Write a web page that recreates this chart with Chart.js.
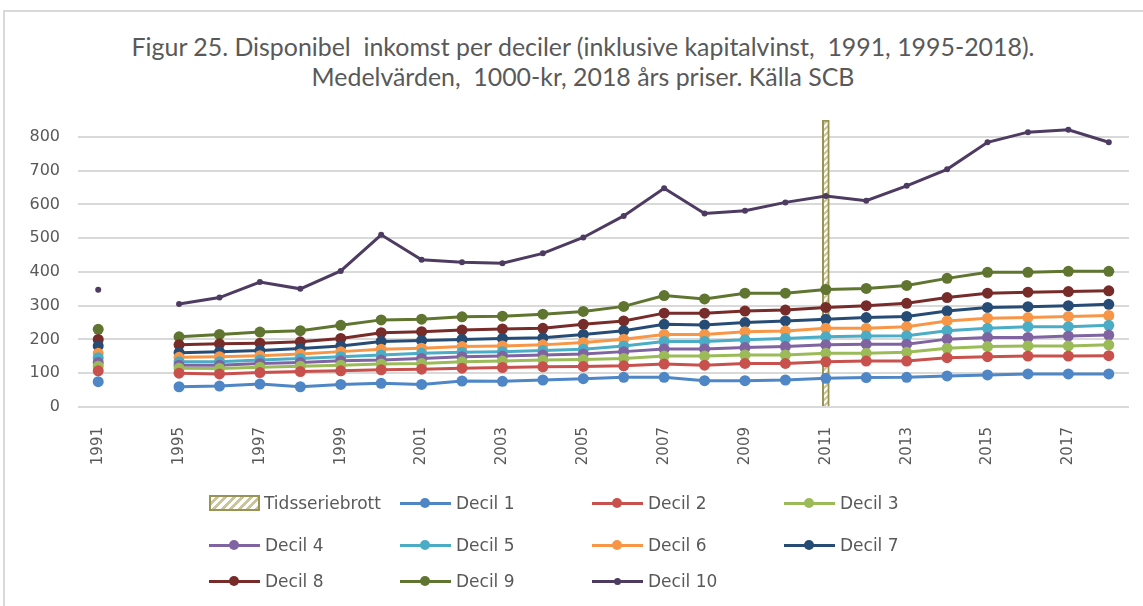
<!DOCTYPE html>
<html>
<head>
<meta charset="utf-8">
<script src="https://cdn.jsdelivr.net/npm/chart.js@4.4.1/dist/chart.umd.min.js"></script>
<style>
  body { margin: 0; background: #fff; font-family: Lato, sans-serif; }
  #frame { position: absolute; left: 3px; top: 10px; width: 1160px; height: 620px; border: 2px solid #d9d9d9; box-sizing: border-box; }
  #title { position: absolute; left: 0; top: 31px; width: 1166px; text-align: center; color: #595959;
    font-family: Lato, sans-serif; font-size: 24.9px; line-height: 30px; white-space: pre; }
  #wrap { position: absolute; left: 0; top: 0; width: 1143px; height: 470px; }
  #legend { position: absolute; left: 0; top: 0; width: 1143px; height: 606px; pointer-events: none; }
  .item { position: absolute; display: flex; align-items: center; color: #595959; font-size: 17px; font-family: 'DejaVu Sans', sans-serif; }
  .sample { position: relative; width: 51px; height: 3px; margin-right: 5px; }
  .dot { position: absolute; left: 20px; top: -3.5px; width: 10px; height: 10px; border-radius: 50%; }
  .hatch { width: 47px; height: 12px; margin-right: 4px; border: 2px solid #9a9454;
    background: repeating-linear-gradient(135deg, #fff 0 3px, #c9c49a 3px 6px); }
</style>
</head>
<body>
<div id="frame"></div>
<div id="title">Figur 25. Disponibel  inkomst per deciler (inklusive kapitalvinst,  1991, 1995-2018).
Medelvärden,  1000-kr, 2018 års priser. Källa SCB</div>
<div id="wrap"><canvas id="chart"></canvas></div>
<div id="legend"></div>
<script>
const labels = ['1991', '', '1995', '1996', '1997', '1998', '1999', '2000', '2001', '2002', '2003', '2004', '2005',
    '2006', '2007', '2008', '2009', '2010', '2011', '2012', '2013', '2014', '2015', '2016', '2017', '2018'];

const decil1 = [75, null, 60, 62, 68, 60, 67, 70, 67, 77, 76, 80, 84, 88, 88, 78, 78, 80, 85, 87, 88, 92, 95, 98, 98, 98];
const decil2 = [107, null, 100, 98, 102, 105, 107, 110, 112, 115, 117, 119, 120, 122, 127, 124, 129, 129, 134, 136, 136, 146, 149, 151, 151, 152];
const decil3 = [121, null, 115, 114, 118, 121, 124, 127, 129, 134, 136, 139, 141, 144, 151, 151, 154, 154, 159, 159, 162, 174, 179, 181, 181, 184];
const decil4 = [132, null, 124, 124, 129, 132, 137, 139, 144, 149, 151, 154, 157, 164, 172, 172, 176, 179, 184, 186, 186, 201, 206, 206, 210, 213];
const decil5 = [146, null, 134, 134, 139, 144, 149, 154, 159, 162, 164, 167, 171, 181, 194, 194, 199, 203, 208, 210, 211, 226, 233, 238, 238, 242];
const decil6 = [159, null, 147, 149, 152, 157, 164, 171, 174, 179, 181, 184, 191, 201, 215, 215, 223, 225, 233, 233, 238, 255, 263, 265, 268, 271];
const decil7 = [181, null, 161, 164, 167, 173, 181, 194, 197, 200, 203, 205, 215, 226, 245, 243, 250, 255, 260, 265, 268, 284, 295, 297, 300, 304];
const decil8 = [200, null, 184, 187, 189, 193, 203, 220, 223, 228, 231, 233, 245, 255, 278, 278, 284, 287, 295, 300, 307, 324, 337, 340, 342, 344];
const decil9 = [230, null, 208, 215, 222, 226, 242, 258, 260, 267, 269, 275, 283, 298, 330, 320, 337, 337, 348, 351, 360, 381, 399, 399, 402, 402];
const decil10 = [347, null, 305, 324, 370, 350, 403, 510, 436, 429, 426, 455, 502, 566, 648, 573, 581, 606, 625, 611, 655, 704, 784, 814, 821, 784];

const breakYear = '2011';
const breakHeight = 850;
const yTicks = [0, 100, 200, 300, 400, 500, 600, 700, 800];

const series = [
    { label: 'Decil 1', data: decil1, color: '#4e86c6' },
    { label: 'Decil 2', data: decil2, color: '#c9514d' },
    { label: 'Decil 3', data: decil3, color: '#9bbb59' },
    { label: 'Decil 4', data: decil4, color: '#8064a2' },
    { label: 'Decil 5', data: decil5, color: '#4bacc6' },
    { label: 'Decil 6', data: decil6, color: '#f79646' },
    { label: 'Decil 7', data: decil7, color: '#264c76' },
    { label: 'Decil 8', data: decil8, color: '#772c2a' },
    { label: 'Decil 9', data: decil9, color: '#5f7530' },
    { label: 'Decil 10', data: decil10, color: '#4d3b62', small: true }
];

const TEXT = '#595959';

function hatchPattern() {
    const c = document.createElement('canvas');
    c.width = 6; c.height = 6;
    const g = c.getContext('2d');
    g.fillStyle = '#fff';
    g.fillRect(0, 0, 6, 6);
    g.strokeStyle = '#c9c49a';
    g.lineWidth = 2;
    g.beginPath();
    g.moveTo(-1, 7); g.lineTo(7, -1);
    g.moveTo(-4, 4); g.lineTo(4, -4);
    g.moveTo(2, 10); g.lineTo(10, 2);
    g.stroke();
    return g.createPattern(c, 'repeat');
}

const datasets = series.map(s => ({
    type: 'line',
    label: s.label,
    data: s.data,
    borderColor: s.color,
    backgroundColor: s.color,
    borderWidth: 3,
    pointRadius: s.small ? 3 : 5.5,
    pointHoverRadius: s.small ? 3 : 5.5,
    pointBorderWidth: 0,
    spanGaps: false,
    order: 0
}));

datasets.push({
    type: 'bar',
    label: 'Tidsseriebrott',
    data: labels.map(l => l === breakYear ? breakHeight : null),
    backgroundColor: hatchPattern(),
    borderColor: '#9a9454',
    borderWidth: 2,
    barThickness: 7,
    order: 1
});

new Chart(document.getElementById('chart'), {
    data: { labels, datasets },
    options: {
        responsive: true,
        maintainAspectRatio: false,
        animation: false,
        layout: { padding: { left: 0, right: 14, top: 120, bottom: 0 } },
        plugins: {
            legend: { display: false },
            tooltip: { enabled: false }
        },
        scales: {
            x: {
                grid: { display: false },
                border: { display: false },
                afterFit: s => { s.height = 63; },
                ticks: {
                    autoSkip: false,
                    minRotation: 90,
                    maxRotation: 90,
                    padding: 12,
                    color: TEXT,
                    font: { family: 'DejaVu Sans', size: 15 },
                    callback: function (v, i) { return i % 2 === 0 ? this.getLabelForValue(v) : ''; }
                }
            },
            y: {
                min: 0,
                max: breakHeight,
                afterBuildTicks: s => { s.ticks = yTicks.map(v => ({ value: v })); },
                afterFit: s => { s.width = 78; },
                border: { display: false },
                grid: { color: '#d9d9d9', lineWidth: 2, drawTicks: false },
                ticks: {
                    padding: 18,
                    color: TEXT,
                    font: { family: 'DejaVu Sans', size: 16 }
                }
            }
        }
    }
});

// legend in the same 4-column grid as the reference
const legendItems = [{ label: 'Tidsseriebrott', hatch: true }].concat(series);
const colX = [209, 400, 592, 784];
const rowY = [503, 545, 581];
const legend = document.getElementById('legend');
legendItems.forEach((it, i) => {
    const el = document.createElement('div');
    el.className = 'item';
    el.style.left = colX[i % 4] + 'px';
    el.style.top = (rowY[Math.floor(i / 4)] - 11) + 'px';
    el.style.height = '22px';
    if (it.hatch) {
        el.innerHTML = '<span class="hatch"></span>' + it.label;
    } else {
        const d = it.small ? 'width:7px;height:7px;top:-2px;left:22px;' : '';
        el.innerHTML = '<span class="sample" style="background:' + it.color + '"><span class="dot" style="background:' +
            it.color + ';' + d + '"></span></span>' + it.label;
    }
    legend.appendChild(el);
});
</script>
</body>
</html>
